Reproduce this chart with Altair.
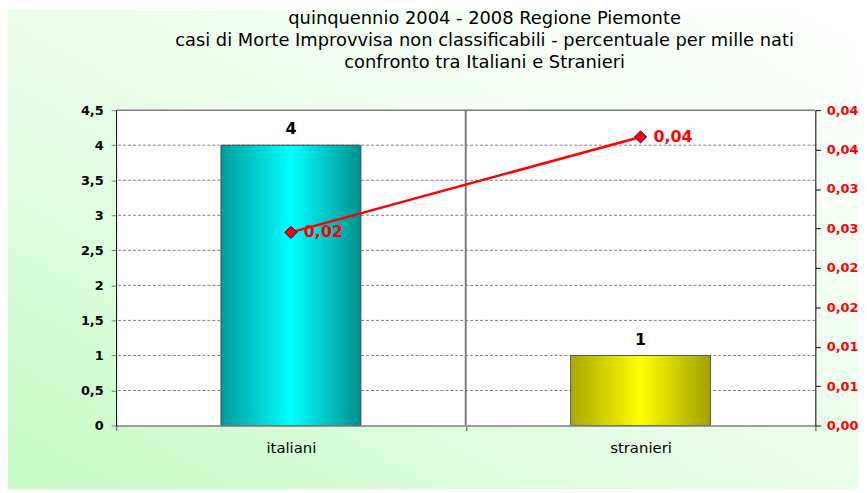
import altair as alt
import pandas as pd

# ---------------- data ----------------
categories = ["italiani", "stranieri"]
casi = [4, 1]                       # left axis (bars)
tasso = [0.0245, 0.0366]            # right axis (line), per mille
left_ticks = [0, 0.5, 1, 1.5, 2, 2.5, 3, 3.5, 4, 4.5]
grid_ticks = [0.5, 1, 1.5, 2, 2.5, 3, 3.5, 4]
top_tick = [4.5]
right_ticks = [0, 0.005, 0.01, 0.015, 0.02, 0.025, 0.03, 0.035, 0.04]
title_lines = [
    "quinquennio 2004 - 2008 Regione Piemonte",
    "casi di Morte Improvvisa non classificabili - percentuale per mille nati",
    "confronto tra Italiani e Stranieri",
]

df = pd.DataFrame({"cat": categories, "casi": casi, "tasso": tasso})

FONT = "DejaVu Sans"
W, H = 705, 318
PAD = {"left": 109, "top": 101, "right": 44, "bottom": 64}
GRAY = "#808080"

xscale = alt.Scale(domain=categories, paddingInner=0, paddingOuter=0)
x_axis = alt.Axis(title=None, orient="bottom", domainColor=GRAY, domainWidth=1.5,
                  tickColor=GRAY, tickSize=5, tickWidth=1.5, tickBand="extent",
                  labelFont=FONT, labelFontSize=15, labelColor="black",
                  labelPadding=10, labelAngle=0, grid=False, zindex=1)

def X(**kw):
    return alt.X("cat:N", scale=xscale, axis=x_axis, sort=categories, **kw)

yL_scale = alt.Scale(domain=[0, 4.5], nice=False, zero=True)
yL_axis = alt.Axis(title=None, orient="left", values=left_ticks,
                   labelExpr="replace(toString(datum.value), '.', ',')",
                   domainColor="black", domainWidth=1, tickColor=GRAY, tickSize=5,
                   labelFont=FONT, labelFontSize=13, labelFontWeight="bold",
                   labelColor="black", labelPadding=8, grid=False, zindex=1)

yR_scale = alt.Scale(domain=[0, 0.04], nice=False, zero=True)
yR_axis = alt.Axis(title=None, orient="right", values=right_ticks,
                   labelExpr="replace(format(floor(datum.value*100+0.5+1e-9)/100, '.2f'), '.', ',')",
                   domainColor="black", domainWidth=1, tickColor="black", tickSize=5,
                   labelFont=FONT, labelFontSize=13, labelFontWeight="bold",
                   labelColor="#ff0000", labelPadding=6, grid=False, zindex=1)

# ---------------- background ----------------
bg_grad = alt.Gradient(
    gradient="linear",
    stops=[alt.GradientStop(color="#c6fcc6", offset=0),
           alt.GradientStop(color="#ebfdeb", offset=0.5),
           alt.GradientStop(color="#ffffff", offset=1)],
    x1=0, y1=1, x2=1, y2=0)

one = alt.Data(values=[{}])
bg = alt.Chart(one).mark_rect(fill=bg_grad).encode(
    x=alt.value(-PAD["left"]), x2=alt.value(W + PAD["right"]),
    y=alt.value(-PAD["top"]), y2=alt.value(H + PAD["bottom"]))
plot_bg = alt.Chart(one).mark_rect(fill="white").encode(
    x=alt.value(0), x2=alt.value(W), y=alt.value(0), y2=alt.value(H))

grid = alt.Chart(pd.DataFrame({"v": grid_ticks})).mark_rule(
    color=GRAY, strokeDash=[3, 2], strokeWidth=1).encode(
    y=alt.Y("v:Q", scale=yL_scale, axis=yL_axis))
top_line = alt.Chart(pd.DataFrame({"v": top_tick})).mark_rule(
    color=GRAY, strokeWidth=1.5).encode(
    y=alt.Y("v:Q", scale=yL_scale, axis=yL_axis))

divider = alt.Chart(df).transform_filter(
    alt.datum.cat == categories[0]).mark_rule(color="#7a7a7a", strokeWidth=2).encode(
    x=X(bandPosition=1))

# ---------------- bars ----------------
def bar_grad(edge_l, mid, edge_r):
    return alt.Gradient(gradient="linear",
                        stops=[alt.GradientStop(color=edge_l, offset=0),
                               alt.GradientStop(color=mid, offset=0.5),
                               alt.GradientStop(color=edge_r, offset=1)],
                        x1=0, y1=0, x2=1, y2=0)

BAR_W = alt.RelativeBandSize(band=0.4)
bar_it = alt.Chart(df).transform_filter(alt.datum.cat == categories[0]).mark_bar(
    width=BAR_W, fill=bar_grad("#009c9c", "#00ffff", "#009090"),
    stroke="#2f4f4f", strokeWidth=1).encode(
    x=X(), y=alt.Y("casi:Q", scale=yL_scale, axis=yL_axis))
bar_st = alt.Chart(df).transform_filter(alt.datum.cat == categories[1]).mark_bar(
    width=BAR_W, fill=bar_grad("#a8a800", "#ffff00", "#a0a000"),
    stroke="#555555", strokeWidth=1).encode(
    x=X(), y=alt.Y("casi:Q", scale=yL_scale, axis=yL_axis))

bar_txt = alt.Chart(df).mark_text(
    baseline="bottom", dy=-8, font=FONT, fontSize=16, fontWeight="bold", color="black").encode(
    x=X(), y=alt.Y("casi:Q", scale=yL_scale, axis=yL_axis), text=alt.Text("casi:Q"))

left = alt.layer(bg, plot_bg, grid, top_line, divider, bar_it, bar_st, bar_txt)

# ---------------- line (right axis) ----------------
yR = alt.Y("tasso:Q", scale=yR_scale, axis=yR_axis)
line = alt.Chart(df).mark_line(color="#ff0000", strokeWidth=2.5).encode(x=X(), y=yR)
pts = alt.Chart(df).mark_point(shape="diamond", filled=True, fill="#ff0000",
                               stroke="#000080", strokeWidth=1, size=150, opacity=1).encode(x=X(), y=yR)
line_txt = alt.Chart(df).transform_calculate(
    lab="replace(format(datum.tasso, '.2f'), '.', ',')").mark_text(
    align="left", baseline="middle", dx=13, font=FONT, fontSize=16,
    fontWeight="bold", color="#ff0000").encode(x=X(), y=yR, text="lab:N")

right = alt.layer(line, pts, line_txt)

chart = alt.layer(left, right).resolve_scale(y="independent").properties(
    width=W, height=H,
    autosize=alt.AutoSizeParams(type="none"),
    padding=PAD,
    title=alt.TitleParams(text=title_lines, font=FONT, fontSize=18, fontWeight="normal",
                          color="black", anchor="middle", frame="group",
                          lineHeight=22.5, offset=0, dy=63, dx=19),
).configure_view(stroke=None)

chart.save("out.html", embed_options={"renderer": "svg", "actions": False})
